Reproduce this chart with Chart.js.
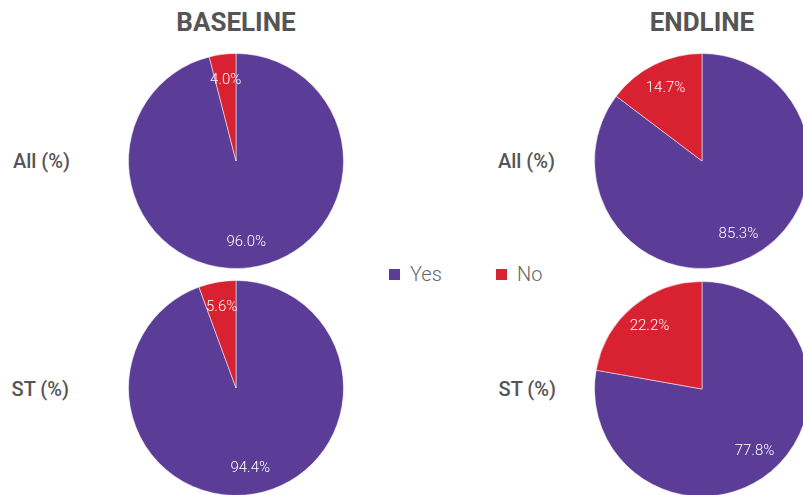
<!DOCTYPE html>
<html>
<head>
<meta charset="utf-8">
<script src="https://cdn.jsdelivr.net/npm/chart.js@4/dist/chart.umd.min.js"></script>
<style>
  html, body { margin: 0; padding: 0; background: #fff; }
  body { width: 803px; height: 495px; overflow: hidden; position: relative; font-family: Roboto, sans-serif; }
  .title { position: absolute; top: 6px; width: 200px; text-align: center; font-size: 26px; font-weight: 700; color: #555; line-height: 32px; }
  .row { position: absolute; width: 100px; text-align: right; font-size: 20px; font-weight: 500; color: #555; line-height: 24px; }
  .pie { position: absolute; }
  .legend { position: absolute; top: 262px; font-size: 20px; font-weight: 300; color: #666; line-height: 24px; }
  .legend span.box { display: inline-block; width: 11px; height: 11px; margin-right: 10px; vertical-align: 1px; }
</style>
</head>
<body>
<div class="title" style="left:136px">BASELINE</div>
<div class="title" style="left:602px">ENDLINE</div>
<div class="row" id="row0" style="left:-30px; top:149px"></div>
<div class="row" id="row1" style="left:-31px; top:377px"></div>
<div class="row" id="row2" style="left:455px; top:149px"></div>
<div class="row" id="row3" style="left:456px; top:377px"></div>
<canvas class="pie" id="blAll" width="216" height="216" style="left:128px; top:53px"></canvas>
<canvas class="pie" id="blST" width="216" height="216" style="left:128px; top:280px"></canvas>
<canvas class="pie" id="elAll" width="216" height="216" style="left:594px; top:53px"></canvas>
<canvas class="pie" id="elST" width="216" height="216" style="left:594px; top:281px"></canvas>
<div class="legend" id="legend" style="left:389px"></div>
<script>
const categories = ['Yes', 'No'];
const rowLabels = ['All (%)', 'ST (%)'];
const baselineAll = [96.0, 4.0];
const baselineST = [94.4, 5.6];
const endlineAll = [85.3, 14.7];
const endlineST = [77.8, 22.2];
const colors = ['#5b3c97', '#d92231'];

// row labels
document.getElementById('row0').textContent = rowLabels[0];
document.getElementById('row1').textContent = rowLabels[1];
document.getElementById('row2').textContent = rowLabels[0];
document.getElementById('row3').textContent = rowLabels[1];

// legend
const legend = document.getElementById('legend');
categories.forEach((c, i) => {
  const item = document.createElement('span');
  item.style.display = 'inline-block';
  item.style.width = i === 0 ? '107px' : 'auto';
  item.innerHTML = `<span class="box" style="background:${colors[i]}"></span>${c}`;
  legend.appendChild(item);
});

// draws the % value inside each slice
const sliceLabels = {
  id: 'sliceLabels',
  afterDatasetsDraw(chart) {
    const ctx = chart.ctx;
    const meta = chart.getDatasetMeta(0);
    const values = chart.data.datasets[0].data;
    ctx.save();
    ctx.font = '300 15px Roboto, sans-serif';
    ctx.fillStyle = '#fff';
    ctx.textAlign = 'center';
    ctx.textBaseline = 'middle';
    meta.data.forEach((arc, i) => {
      const p = arc.getProps(['x', 'y', 'startAngle', 'endAngle', 'outerRadius'], true);
      const mid = (p.startAngle + p.endAngle) / 2;
      const r = p.outerRadius * 0.76;
      ctx.fillText(values[i].toFixed(1) + '%', p.x + Math.cos(mid) * r, p.y + Math.sin(mid) * r);
    });
    ctx.restore();
  }
};

function makePie(id, values) {
  const ctx = document.getElementById(id).getContext('2d');
  new Chart(ctx, {
    type: 'pie',
    data: {
      labels: categories,
      datasets: [{
        data: values,
        backgroundColor: colors,
        borderColor: 'rgba(255,255,255,0.5)',
        borderWidth: 1
      }]
    },
    options: {
      responsive: false,
      animation: false,
      events: [],
      layout: { padding: 0 },
      plugins: {
        legend: { display: false },
        tooltip: { enabled: false }
      }
    },
    plugins: [sliceLabels]
  });
}

makePie('blAll', baselineAll);
makePie('blST', baselineST);
makePie('elAll', endlineAll);
makePie('elST', endlineST);
</script>
</body>
</html>
